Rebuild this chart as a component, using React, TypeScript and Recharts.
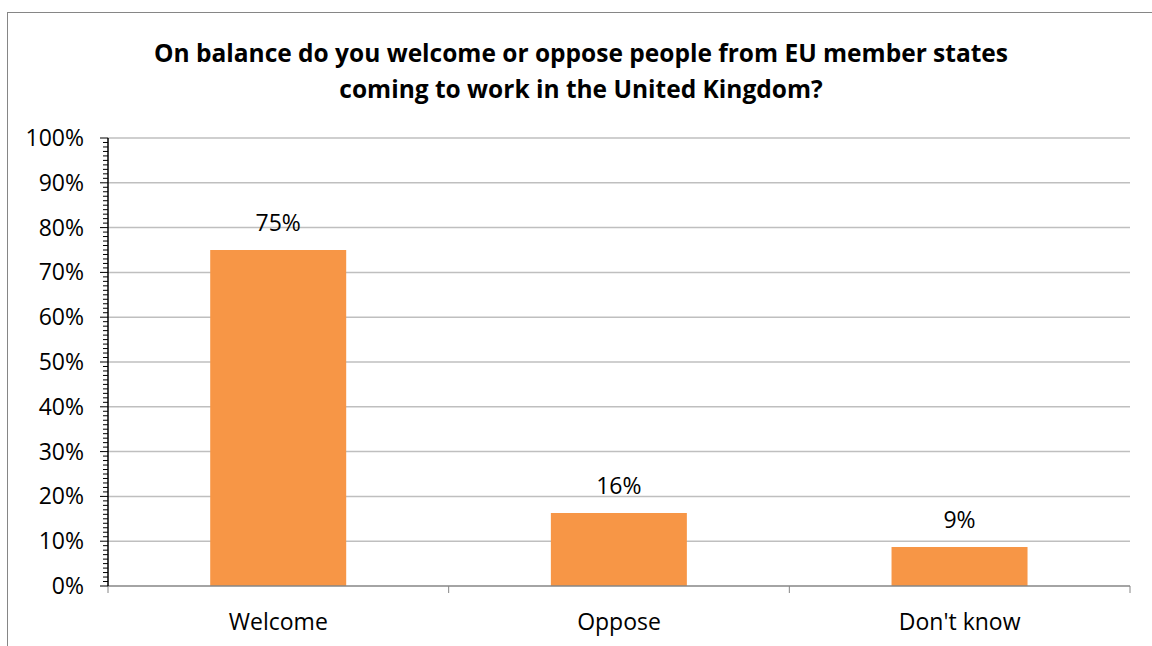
import { BarChart, Bar, XAxis, YAxis, CartesianGrid, LabelList } from 'recharts';

const categories = ['Welcome', 'Oppose', "Don't know"];
const shares = [75, 16.3, 8.7];
const majorTicks = [0, 10, 20, 30, 40, 50, 60, 70, 80, 90, 100];

const data = categories.map((name, i) => ({ name, share: shares[i] }));
// minor tick every 1%
const allTicks = Array.from({ length: 101 }, (_, i) => i);

const W = 1152;
const H = 646;
const PLOT_LEFT = 108;
const PLOT_RIGHT = 1130;
const BAND = (PLOT_RIGHT - PLOT_LEFT) / categories.length;
const FONT = '"Open Sans", sans-serif';
const FS = 23;

const YTick = (props: any) => {
   const { y, payload } = props;
   const major = payload.value % 10 === 0;
   return (
      <g>
         <line
            x1={PLOT_LEFT - (major ? 8 : 5)}
            x2={PLOT_LEFT}
            y1={y}
            y2={y}
            stroke="#000"
            strokeWidth={1}
         />
         {major && (
            <text
               x={84}
               y={y}
               dy="0.35em"
               textAnchor="end"
               fontSize={FS}
               fontFamily={FONT}
               fill="#000">
               {payload.value}%
            </text>
         )}
      </g>
   );
};

const XTick = (props: any) => {
   const { x, y, index } = props;
   const left = x - BAND / 2;
   const right = x + BAND / 2;
   return (
      <g>
         <line x1={left} x2={left} y1={y - 8} y2={y - 1} stroke="#868686" />
         {index === categories.length - 1 && (
            <line x1={right} x2={right} y1={y - 8} y2={y - 1} stroke="#868686" />
         )}
         <text
            x={x}
            y={y + 36}
            textAnchor="middle"
            fontSize={FS}
            fontFamily={FONT}
            fill="#000">
            {props.payload.value}
         </text>
      </g>
   );
};

const App = () => (
   <div
      style={{
         position: 'absolute',
         left: 0,
         top: 0,
         width: W,
         height: H,
         overflow: 'hidden',
         background: '#fff'
      }}>
      <div
         style={{
            position: 'absolute',
            left: 7,
            top: 12,
            width: 1200,
            height: 700,
            border: '1px solid #868686'
         }}
      />
      <div
         style={{
            position: 'absolute',
            left: 0,
            top: 35,
            width: 1162,
            textAlign: 'center',
            fontFamily: FONT,
            fontWeight: 700,
            fontSize: 24.5,
            lineHeight: '36px',
            color: '#000'
         }}>
         On balance do you welcome or oppose people from EU member states
         <br />
         coming to work in the United Kingdom?
      </div>
      <div style={{ position: 'absolute', left: 0, top: 0 }}>
         <BarChart
            width={W}
            height={H}
            data={data}
            barCategoryGap="30%"
            margin={{ top: 138, right: W - PLOT_RIGHT, bottom: 20, left: 8 }}>
            <CartesianGrid
               vertical={false}
               horizontalValues={majorTicks.slice(1)}
               stroke="#bfbfbf"
               strokeWidth={1.5}
            />
            <XAxis
               dataKey="name"
               height={40}
               axisLine={{ stroke: '#868686', strokeWidth: 1.5 }}
               tickLine={false}
               tick={<XTick />}
               interval={0}
            />
            <YAxis
               width={100}
               domain={[0, 100]}
               ticks={allTicks}
               interval={0}
               axisLine={{ stroke: '#000', strokeWidth: 1.5 }}
               tickLine={false}
               tick={<YTick />}
            />
            <Bar dataKey="share" fill="#f79646" isAnimationActive={false}>
               <LabelList
                  dataKey="share"
                  position="top"
                  offset={19}
                  formatter={(v: any) => `${Math.round(v)}%`}
                  fontSize={FS}
                  fontFamily={FONT}
                  fill="#000"
               />
            </Bar>
         </BarChart>
      </div>
   </div>
);

export default App;
